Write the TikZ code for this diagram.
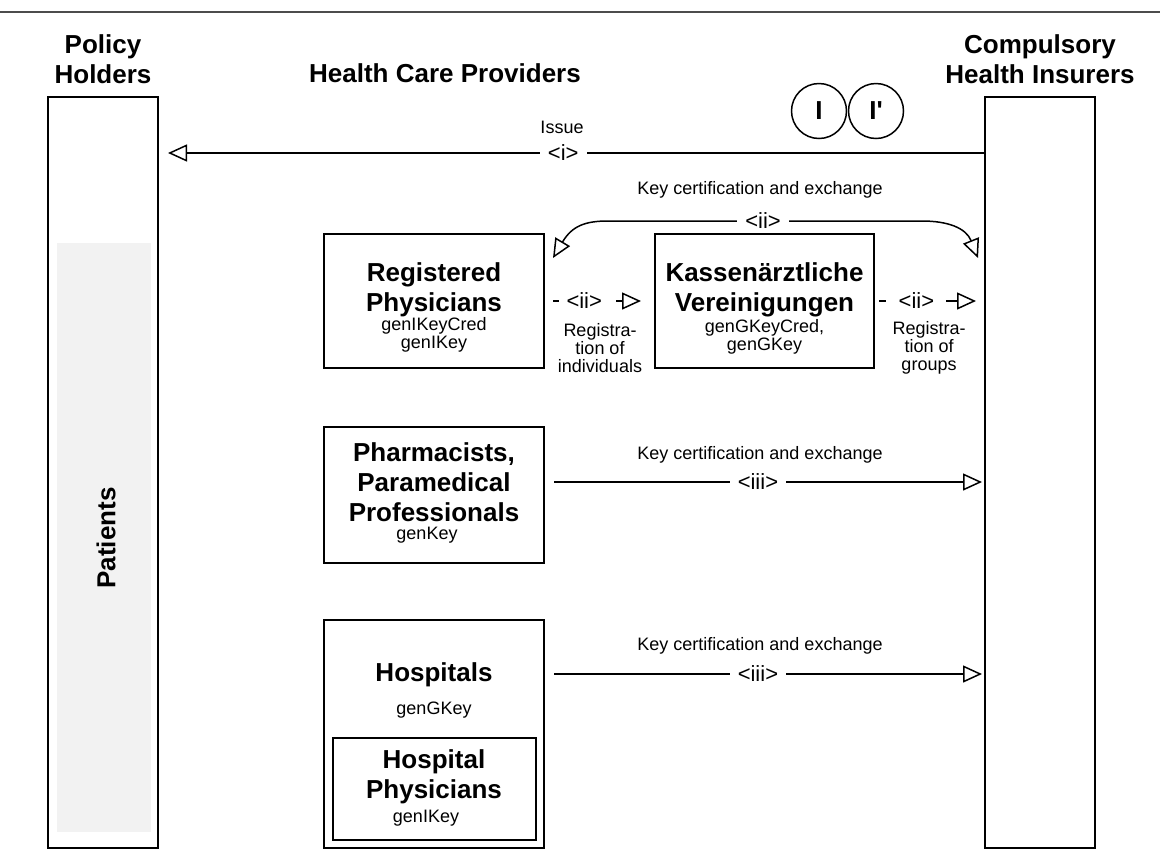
\documentclass[tikz,border=0pt]{standalone}
\usepackage{fontspec}
\setmainfont{Liberation Sans}
\usetikzlibrary{arrows.meta}
\definecolor{panelgray}{HTML}{F2F2F2}
\begin{document}
\begin{tikzpicture}[x=0.5pt,y=-0.5pt,
  big/.style={font=\fontsize{13}{15}\selectfont\bfseries, align=center, inner sep=0pt},
  small/.style={font=\fontsize{9}{9}\selectfont, align=center, inner sep=0pt},
  box/.style={draw, line width=1pt, rectangle, inner sep=0pt},
  conn/.style={line width=0.75pt},
  opentip/.style={-{Triangle[open,length=9.5pt,width=8.5pt]}},
  lbl/.style={small, font=\fontsize{11}{11}\selectfont, fill=white, inner xsep=4pt, inner ysep=2pt},
]
\useasboundingbox (0,0) rectangle (1160,863);

% top rule
\draw[line width=1.2pt, black!70] (0,12) -- (1160,12);

% column headings
\node[big] (hPH) at (103,59) {Policy\\Holders};
\node[big] (hHC) at (445,73) {Health Care Providers};
\node[big] (hCI) at (1040,59) {Compulsory\\Health Insurers};

% side columns
\node[box, minimum width=55pt, minimum height=375.5pt] (lt) at (103,472.5) {};
\node[fill=panelgray, minimum width=47pt, minimum height=294.5pt, inner sep=0pt] (pat) at (104,537.5) {};
\node[big, rotate=90] (patl) at (106,538) {Patients};
\node[box, minimum width=55pt, minimum height=375.5pt] (rt) at (1040,472.5) {};

% identity circles
\node[draw, circle, line width=0.75pt, minimum size=27.5pt, big] (cI) at (819,111) {I};
\node[draw, circle, line width=0.75pt, minimum size=27.5pt, big] (cIp) at (876,111) {I\textquotesingle};

% issue
\coordinate (yIssue) at (0,153);
\draw[conn, opentip, shorten >=4.5pt]
  (rt.west |- yIssue) -- node[lbl, pos=0.51] (lI) {<i>} (lt.east |- yIssue);
\node[small] (tIssue) at (562,127) {Issue};

% registered physicians
\node[box, minimum width=110pt, minimum height=67pt] (reg) at (434,301) {};
\node[big] (regl) at (434,290) {Registered\\Physicians};
\node[small] (regk) at (434,335) {genIKeyCred\\genIKey};

% Kassenaerztliche Vereinigungen
\node[box, minimum width=109.5pt, minimum height=67pt] (kv) at (764.5,301) {};
\node[big] (kvl) at (764.5,290) {Kassenärztliche\\Vereinigungen};
\node[small] (kvk) at (764.5,337) {genGKeyCred,\\genGKey};

% registration arrows: short dash, label, short dash into the tip
\draw[conn, opentip, dash pattern=on 3pt off 28.5pt on 30pt, shorten <=4pt, shorten >=6.5pt]
  (reg.east) -- node[lbl, pos=0.36, fill=none] (lr1) {<ii>} (kv.west);
\draw[conn, opentip, dash pattern=on 3.5pt off 30pt on 30pt, shorten <=2pt, shorten >=4pt]
  (kv.east) -- node[lbl, pos=0.38, fill=none] (lr2) {<ii>} (rt.west |- kv.east);
\node[small] (tri) at (600,348) {Registra-\\tion of\\individuals};
\node[small] (trg) at (929,348) {Registra-\\tion of\\groups};

% key certification for registered physicians and KV
\coordinate (ka) at (553,258);
\coordinate (kb) at (978,258);
\draw[conn, {Triangle[open,length=9.5pt,width=8.5pt]}-{Triangle[open,length=9.5pt,width=8.5pt]}]
  (ka) .. controls (572,226) and (585,221) .. (608,221) -- (922,221)
  .. controls (948,221) and (966,228) .. (kb);
\node[lbl] (lk1) at (763,221) {<ii>};
\node[small] (tk1) at (760,190) {Key certification and exchange};

% pharmacists
\node[box, minimum width=110pt, minimum height=68pt] (ph) at (434,495) {};
\node[big] (phl) at (434,482.5) {Pharmacists,\\Paramedical\\Professionals};
\node[small] (phk) at (427,535) {genKey};
\draw[conn, opentip, shorten <=4.5pt, shorten >=1pt]
  (ph.east |- 0,482) -- node[lbl, pos=0.485] (lk2) {<iii>} (rt.west |- 0,482);
\node[small] (tk2) at (760,455) {Key certification and exchange};

% hospitals
\node[box, minimum width=110pt, minimum height=114pt] (ho) at (434,734) {};
\node[big] (hol) at (434,675) {Hospitals};
\node[small] (hok) at (434,710) {genGKey};
\node[box, line width=0.75pt, minimum width=101.5pt, minimum height=51pt] (hp) at (434.5,789) {};
\node[big] (hpl) at (434,777) {Hospital\\Physicians};
\node[small] (hpk) at (426,818) {genIKey};
\draw[conn, opentip, shorten <=4.5pt, shorten >=1pt]
  (ho.east |- 0,674) -- node[lbl, pos=0.485] (lk3) {<iii>} (rt.west |- 0,674);
\node[small] (tk3) at (760,646) {Key certification and exchange};
\end{tikzpicture}
\end{document}
